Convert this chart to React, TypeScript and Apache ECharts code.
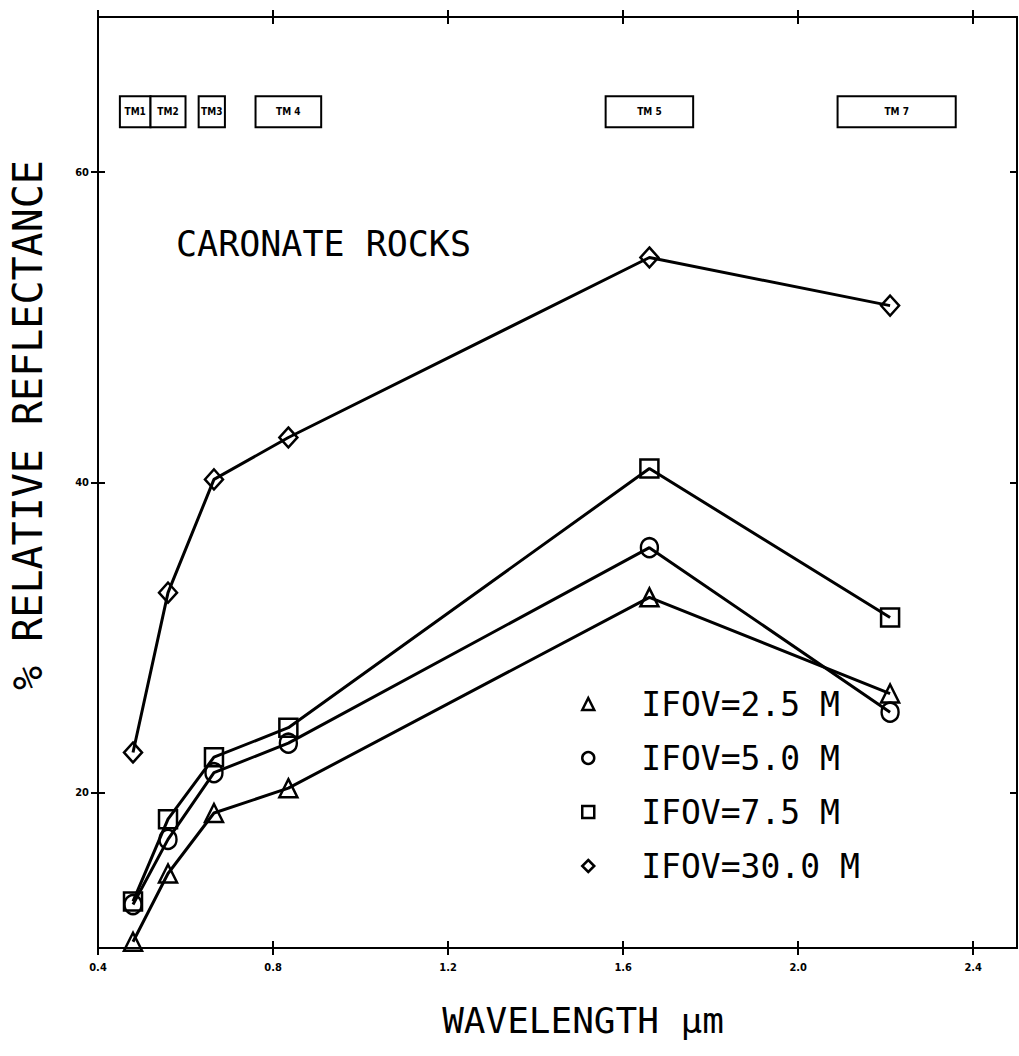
import React, { useEffect, useRef } from "react";
import * as echarts from "echarts";

// Wavelength positions (µm) of the Thematic Mapper bands as plotted
const wavelength = [0.48, 0.56, 0.665, 0.835, 1.66, 2.21];

// % relative reflectance per IFOV
const ifov25 = [10.4, 14.8, 18.7, 20.3, 32.6, 26.4];
const ifov50 = [12.8, 17.0, 21.3, 23.2, 35.8, 25.2];
const ifov75 = [13.0, 18.3, 22.3, 24.2, 40.9, 31.3];
const ifov300 = [22.6, 32.9, 40.2, 42.9, 54.5, 51.4];

const seriesNames = ["IFOV=2.5 M", "IFOV=5.0 M", "IFOV=7.5 M", "IFOV=30.0 M"];
const seriesValues = [ifov25, ifov50, ifov75, ifov300];
const seriesSymbols = ["triangle", "circle", "rect", "diamond"];

// TM band boxes
const bandNames = ["TM1", "TM2", "TM3", "TM 4", "TM 5", "TM 7"];
const bandStart = [0.45, 0.52, 0.63, 0.76, 1.56, 2.09];
const bandEnd = [0.52, 0.6, 0.69, 0.91, 1.76, 2.36];
const bandLow = 62.9;
const bandHigh = 64.9;

// Axis ticks
const yTicks = [20, 40, 60];
const xTicks = [0.4, 0.8, 1.2, 1.6, 2.0, 2.4];

const MONO = "'DejaVu Sans Mono', monospace";
const COND = "'DejaVu Sans Condensed', 'Liberation Sans Narrow', sans-serif";

export default function App() {
  const ref = useRef<HTMLDivElement>(null);

  useEffect(() => {
    if (!ref.current) return;
    const chart = echarts.init(ref.current, null, { renderer: "svg" });

    const xBase = {
      type: "value",
      min: 0.4,
      max: 2.5,
      splitLine: { show: false },
      axisLine: { show: true, lineStyle: { color: "#000", width: 2 } },
      axisTick: {
        show: true,
        customValues: xTicks,
        length: 7,
        lineStyle: { color: "#000", width: 2 },
      },
      axisLabel: { show: false },
    };
    const yBase = {
      type: "value",
      min: 10,
      max: 70,
      splitLine: { show: false },
      axisLine: { show: true, lineStyle: { color: "#000", width: 2 } },
      axisTick: {
        show: true,
        customValues: yTicks,
        length: 7,
        lineStyle: { color: "#000", width: 2 },
      },
      axisLabel: { show: false },
    };

    const lineSeries = seriesNames.map((name, i) => ({
      name,
      type: "line",
      xAxisIndex: 0,
      yAxisIndex: 0,
      data: wavelength.map((w, j) => [w, seriesValues[i][j]]),
      symbol: seriesSymbols[i],
      symbolSize:
        seriesSymbols[i] === "circle"
          ? [17, 19]
          : seriesSymbols[i] === "diamond"
          ? [18, 20]
          : 18,
      showAllSymbol: true,
      clip: false,
      lineStyle: { color: "#000", width: 3 },
      itemStyle: {
        color: "rgba(0,0,0,0)",
        borderColor: "#000",
        borderWidth: 2.5,
      },
      z: 3,
    }));

    const bandSeries = {
      type: "custom",
      xAxisIndex: 0,
      yAxisIndex: 0,
      silent: true,
      clip: false,
      encode: { x: [0, 1], y: [2, 3] },
      data: bandNames.map((_, i) => [bandStart[i], bandEnd[i], bandLow, bandHigh]),
      renderItem: (params: any, api: any) => {
        const p0 = api.coord([api.value(0), api.value(3)]);
        const p1 = api.coord([api.value(1), api.value(2)]);
        return {
          type: "group",
          children: [
            {
              type: "rect",
              shape: { x: p0[0], y: p0[1], width: p1[0] - p0[0], height: p1[1] - p0[1] },
              style: { fill: "#fff", stroke: "#000", lineWidth: 2 },
            },
            {
              type: "text",
              style: {
                text: bandNames[params.dataIndex],
                x: (p0[0] + p1[0]) / 2,
                y: (p0[1] + p1[1]) / 2,
                align: "center",
                verticalAlign: "middle",
                fontSize: 10,
                fontWeight: "bold",
                fontFamily: COND,
                fill: "#000",
              },
            },
          ],
        };
      },
    };

    chart.setOption({
      animation: false,
      backgroundColor: "#fff",
      title: {
        text: "CARONATE ROCKS",
        left: 176,
        top: 226,
        padding: 0,
        textStyle: { fontFamily: MONO, fontSize: 35, fontWeight: "normal", color: "#000" },
      },
      grid: { left: 98, right: 2, top: 17, bottom: 108, containLabel: false },
      xAxis: [
        {
          ...xBase,
          position: "bottom",
          axisLabel: {
            show: true,
            customValues: xTicks,
            formatter: (v: number) => v.toFixed(1),
            color: "#000",
            fontSize: 11,
            fontWeight: "bold",
            fontFamily: COND,
            margin: 14,
          },
        },
        { ...xBase, position: "bottom", axisTick: { ...xBase.axisTick, inside: true } },
        { ...xBase, position: "top" },
        { ...xBase, position: "top", axisTick: { ...xBase.axisTick, inside: true } },
      ],
      yAxis: [
        {
          ...yBase,
          position: "left",
          axisLabel: {
            show: true,
            customValues: yTicks,
            color: "#000",
            fontSize: 11,
            fontWeight: "bold",
            fontFamily: COND,
            margin: 9,
          },
        },
        { ...yBase, position: "left", axisTick: { ...yBase.axisTick, inside: true } },
        { ...yBase, position: "right", axisTick: { ...yBase.axisTick, inside: true } },
      ],
      legend: {
        orient: "vertical",
        left: 576,
        top: 679,
        itemGap: 14,
        itemWidth: 12,
        itemHeight: 12,
        selectedMode: false,
        data: seriesNames.map((name, i) => ({
          name,
          icon: seriesSymbols[i],
          itemStyle: { color: "rgba(0,0,0,0)", borderColor: "#000", borderWidth: 2.5 },
        })),
        textStyle: {
          fontFamily: MONO,
          fontSize: 33,
          lineHeight: 40,
          color: "#000",
          padding: [0, 0, 0, 42],
        },
      },
      graphic: [
        {
          type: "text",
          x: 583,
          y: 1020,
          style: {
            text: "WAVELENGTH μm",
            align: "center",
            verticalAlign: "middle",
            fontFamily: MONO,
            fontSize: 36,
            fill: "#000",
          },
        },
        {
          type: "text",
          x: 28,
          y: 425,
          rotation: Math.PI / 2,
          style: {
            text: "% RELATIVE REFLECTANCE",
            align: "center",
            verticalAlign: "middle",
            fontFamily: MONO,
            fontSize: 40,
            fill: "#000",
          },
        },
      ],
      series: [bandSeries, ...lineSeries],
    });

    return () => chart.dispose();
  }, []);

  return (
    <div
      ref={ref}
      style={{ position: "absolute", left: 0, top: 0, width: 1019, height: 1056 }}
    />
  );
}
